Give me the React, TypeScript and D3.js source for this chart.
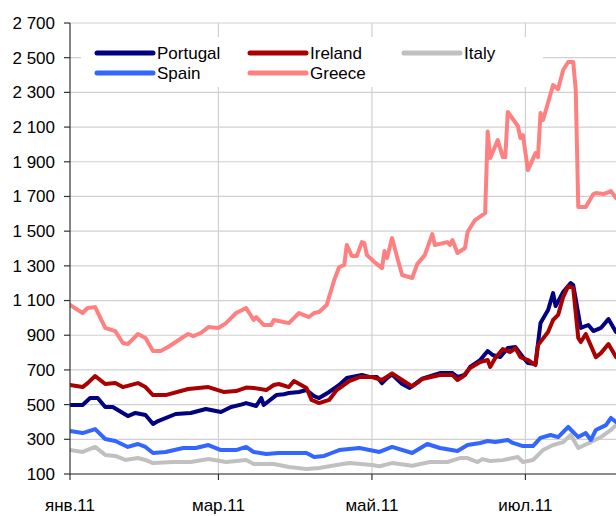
import React from 'react';
import * as d3 from 'd3';

// ---- data: day offsets from 1 Jan 2011 and CDS spread values ----
const yTickValues = [100, 300, 500, 700, 900, 1100, 1300, 1500, 1700, 1900, 2100, 2300, 2500, 2700];
const xTickDates = ['2011-01-01', '2011-03-01', '2011-05-01', '2011-07-01'];
const xTickLabels = ['янв.11', 'мар.11', 'май.11', 'июл.11'];

const portugalDays = [0, 5, 8, 11, 14, 17, 23, 26, 30, 33, 35, 42, 48, 54, 60, 64, 68, 70, 74, 76, 77, 82, 85, 87, 91, 94, 97, 99, 103, 107, 110, 116, 119, 122, 124, 126, 128, 132, 135, 140, 147, 152, 154, 157, 159, 163, 166, 168, 171, 174, 177, 180, 182, 185, 187, 190, 192, 193, 196, 199, 200, 203, 206, 208, 211, 214, 217];
const portugalValues = [498, 498, 538, 538, 486, 486, 434, 452, 440, 388, 405, 446, 452, 475, 457, 486, 500, 509, 492, 538, 498, 555, 560, 567, 573, 584, 549, 538, 573, 613, 653, 671, 659, 659, 624, 653, 674, 619, 596, 650, 682, 682, 659, 671, 717, 757, 809, 786, 774, 826, 832, 774, 740, 734, 970, 1045, 1143, 1068, 1149, 1201, 1189, 942, 959, 924, 942, 993, 919];

const irelandDays = [0, 5, 7, 10, 14, 18, 21, 27, 30, 33, 38, 47, 55, 61, 66, 70, 73, 78, 81, 83, 87, 89, 94, 96, 99, 103, 106, 111, 115, 120, 124, 128, 132, 136, 139, 140, 147, 152, 154, 156, 159, 163, 166, 167, 169, 172, 175, 177, 179, 182, 185, 186, 190, 192, 194, 196, 198, 200, 202, 203, 205, 209, 211, 214, 217];
const irelandValues = [613, 601, 624, 665, 619, 624, 601, 624, 601, 555, 555, 590, 601, 573, 578, 598, 596, 584, 613, 619, 601, 636, 596, 527, 509, 527, 584, 636, 659, 659, 642, 680, 642, 605, 636, 648, 671, 671, 642, 660, 711, 746, 757, 717, 769, 820, 803, 826, 774, 757, 728, 843, 919, 988, 1017, 1120, 1183, 1172, 884, 861, 907, 774, 797, 849, 774];

const italyDays = [0, 5, 10, 14, 18, 22, 27, 30, 33, 41, 48, 55, 62, 70, 73, 81, 87, 94, 99, 106, 111, 120, 123, 128, 136, 143, 150, 155, 158, 162, 164, 167, 172, 178, 180, 184, 188, 192, 196, 199, 202, 207, 211, 215, 217];
const italyValues = [238, 227, 256, 210, 204, 181, 192, 181, 163, 169, 169, 186, 169, 181, 158, 158, 140, 129, 135, 152, 163, 152, 145, 163, 148, 169, 169, 192, 192, 169, 186, 175, 180, 198, 169, 181, 238, 267, 284, 325, 250, 284, 313, 354, 382];

const spainDays = [0, 5, 10, 14, 18, 23, 27, 30, 33, 38, 45, 50, 55, 60, 66, 70, 73, 78, 83, 90, 94, 97, 101, 104, 107, 115, 123, 128, 136, 142, 147, 154, 158, 163, 166, 169, 174, 176, 180, 184, 187, 191, 194, 198, 202, 205, 207, 209, 213, 215, 217];
const spainValues = [348, 336, 359, 302, 290, 256, 273, 256, 221, 227, 250, 250, 267, 238, 238, 256, 227, 215, 221, 221, 221, 198, 204, 221, 238, 250, 227, 256, 221, 273, 250, 233, 267, 279, 290, 285, 296, 279, 261, 261, 308, 325, 313, 371, 313, 336, 296, 354, 382, 423, 400];

const greeceDays = [0, 5, 7, 10, 14, 18, 21, 23, 27, 30, 33, 36, 39, 45, 47, 49, 52, 55, 59, 62, 66, 70, 73, 74, 77, 80, 81, 83, 87, 91, 95, 97, 99, 102, 105, 107, 109, 110, 112, 114, 116, 117, 118, 121, 122, 124, 125, 126, 128, 130, 132, 136, 138, 141, 144, 145, 150, 151, 152, 154, 157, 158, 161, 165, 166, 167, 170, 172, 173, 174, 178, 179, 180, 182, 185, 186, 187, 188, 192, 194, 196, 198, 200, 201, 202, 205, 208, 209, 212, 215, 217];
const greeceValues = [1075, 1028, 1057, 1062, 942, 924, 855, 849, 907, 884, 809, 809, 832, 890, 907, 895, 913, 947, 942, 970, 1028, 1057, 988, 1005, 959, 959, 988, 982, 970, 1028, 1005, 1028, 1034, 1074, 1218, 1293, 1305, 1420, 1357, 1357, 1437, 1431, 1362, 1322, 1310, 1287, 1385, 1345, 1460, 1351, 1247, 1230, 1310, 1362, 1483, 1420, 1437, 1420, 1449, 1374, 1403, 1495, 1564, 1604, 2075, 1921, 2025, 1927, 1927, 2187, 2106, 2037, 2054, 1852, 1950, 1927, 2181, 2141, 2342, 2319, 2429, 2475, 2475, 2313, 1639, 1639, 1714, 1720, 1714, 1731, 1691];

const seriesNames = ['Portugal', 'Ireland', 'Italy', 'Spain', 'Greece'];
const seriesColors = ['#000080', '#AA0000', '#C0C0C0', '#3366FF', '#FF8080'];
const seriesDays = [portugalDays, irelandDays, italyDays, spainDays, greeceDays];
const seriesValues = [portugalValues, irelandValues, italyValues, spainValues, greeceValues];

const W = 616;
const H = 516;
const FONT = '"Liberation Sans", Arial, sans-serif';

export default function App() {
  const start = new Date(2011, 0, 1);
  const end = d3.timeDay.offset(start, 217);
  const plotLeft = 70;
  const plotRight = 616;
  const plotTop = 23;
  const plotBottom = 474;

  const x = d3.scaleTime().domain([start, end]).range([plotLeft, plotRight]);
  const y = d3.scaleLinear().domain([100, 2700]).range([plotBottom, plotTop]);

  const fmt = d3.formatLocale({ decimal: ',', thousands: ' ', grouping: [3], currency: ['', ''] }).format(',d');

  const line = d3
    .line<[number, number]>()
    .x((d) => x(d3.timeDay.offset(start, d[0])))
    .y((d) => y(d[1]));

  const parse = d3.timeParse('%Y-%m-%d');
  const xTicks = xTickDates.map((s) => parse(s) as Date);

  const legendCols = [97, 250, 404];
  const legendRows = [53, 73];

  return (
    <svg
      width={W}
      height={H}
      style={{ position: 'absolute', left: 0, top: 0, background: '#fff' }}
      fontFamily={FONT}
    >
      <defs>
        <clipPath id="plotClip">
          <rect x={plotLeft} y={0} width={plotRight - plotLeft} height={plotBottom + 2} />
        </clipPath>
      </defs>
      <rect x={0} y={0} width={W} height={H} fill="#fff" />
      {/* horizontal gridlines */}
      {yTickValues.map((v) => (
        <line key={'g' + v} x1={plotLeft} x2={plotRight} y1={y(v)} y2={y(v)} stroke="#D0D0D0" strokeWidth={1.2} />
      ))}
      {/* vertical gridlines */}
      {xTicks.slice(1).map((d, i) => (
        <line key={'vg' + i} x1={x(d)} x2={x(d)} y1={plotTop} y2={plotBottom} stroke="#D0D0D0" strokeWidth={1.2} />
      ))}
      {/* legend background */}
      <rect x={81} y={37} width={462} height={50} fill="#fff" />
      {/* series */}
      <g clipPath="url(#plotClip)">
        {seriesNames.map((name, i) => {
          const pts: [number, number][] = seriesDays[i].map((d, j) => [d, seriesValues[i][j]]);
          return (
            <path
              key={name}
              d={line(pts) || ''}
              fill="none"
              stroke={seriesColors[i]}
              strokeWidth={4}
              strokeLinejoin="round"
              strokeLinecap="round"
            />
          );
        })}
      </g>
      {/* axes */}
      <line x1={plotLeft} x2={plotLeft} y1={plotTop} y2={plotBottom} stroke="#333" strokeWidth={1.2} />
      <line x1={plotLeft} x2={plotRight} y1={plotBottom} y2={plotBottom} stroke="#333" strokeWidth={1.2} />
      {yTickValues.map((v) => (
        <g key={'t' + v}>
          <line x1={plotLeft - 6} x2={plotLeft} y1={y(v)} y2={y(v)} stroke="#333" strokeWidth={1.2} />
          <text x={55} y={y(v)} dy="0.35em" textAnchor="end" fontSize={17} fill="#000">
            {fmt(v)}
          </text>
        </g>
      ))}
      {xTicks.map((d, i) => (
        <g key={'xt' + i}>
          <line x1={x(d)} x2={x(d)} y1={plotBottom} y2={plotBottom + 6} stroke="#333" strokeWidth={1.2} />
          <text x={x(d)} y={511} textAnchor="middle" fontSize={17} fill="#000">
            {xTickLabels[i]}
          </text>
        </g>
      ))}
      {/* legend */}
      {seriesNames.map((name, i) => {
        const col = i < 3 ? i : i - 3;
        const row = i < 3 ? 0 : 1;
        const lx = legendCols[col];
        const ly = legendRows[row];
        return (
          <g key={'lg' + name}>
            <line x1={lx} x2={lx + 56} y1={ly} y2={ly} stroke={seriesColors[i]} strokeWidth={5} strokeLinecap="round" />
            <text x={lx + 60} y={ly} dy="0.35em" fontSize={17} fill="#000">
              {name}
            </text>
          </g>
        );
      })}
    </svg>
  );
}
